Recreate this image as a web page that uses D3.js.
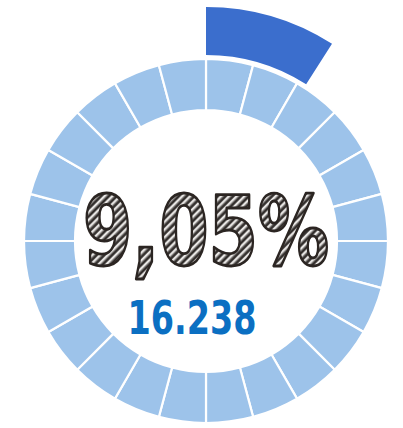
<!DOCTYPE html>
<html>
<head>
<meta charset="utf-8">
<script src="https://cdn.jsdelivr.net/npm/d3@7"></script>
<style>
    body { margin: 0; background: #fff; }
    svg { display: block; }
</style>
</head>
<body>
<div id="gauge"></div>
<script>
// chart values
let segments = d3.range(24).map(() => 1)
let percentValue = [9.05]
let percentLabel = ["9,05%"]
let countLabel = ["16.238"]

;(function () {
    let w = 403
    let h = 428
    let cx = 206
    let cy = 241

    let svg = d3.select("#gauge")
        .append("svg")
        .attr("width", w)
        .attr("height", h)

    // hatch pattern for the big number
    let defs = svg.append("defs")
    let pat = defs.append("pattern")
        .attr("id", "hatch")
        .attr("patternUnits", "userSpaceOnUse")
        .attr("width", 5.5)
        .attr("height", 5.5)
        .attr("patternTransform", "rotate(45)")
    pat.append("rect").attr("width", 5.5).attr("height", 5.5).attr("fill", "#5e5a58")
    pat.append("rect").attr("width", 2.2).attr("height", 5.5).attr("fill", "#e8e6e4")
    pat.append("rect").attr("x", 3.4).attr("width", 1.4).attr("height", 5.5).attr("fill", "#282422")

    let g = svg.append("g")
        .attr("transform", "translate(" + cx + "," + cy + ")")

    // ring of equal segments
    let pie = d3.pie().sort(null).value(d => d)
    let ringArc = d3.arc()
        .innerRadius(131)
        .outerRadius(182)

    g.selectAll("path.seg")
        .data(pie(segments))
        .enter()
        .append("path")
        .attr("class", "seg")
        .attr("d", ringArc)
        .attr("fill", "#9dc3ea")
        .attr("stroke", "#ffffff")
        .attr("stroke-width", 2.2)

    // highlighted value arc, pushed outwards
    let angle = d3.scaleLinear()
        .domain([0, 100])
        .range([0, 2 * Math.PI])

    let valueArc = d3.arc()
        .innerRadius(186)
        .outerRadius(234)
        .startAngle(0)
        .endAngle(d => angle(d))

    g.selectAll("path.val")
        .data(percentValue)
        .enter()
        .append("path")
        .attr("class", "val")
        .attr("d", valueArc)
        .attr("fill", "#3b6ecd")

    // big percentage
    g.append("text")
        .attr("x", 0)
        .attr("y", 24)
        .attr("text-anchor", "middle")
        .attr("textLength", 246)
        .attr("lengthAdjust", "spacingAndGlyphs")
        .style("font-family", "'DejaVu Sans Condensed', 'DejaVu Sans'")
        .style("font-weight", "bold")
        .style("font-stretch", "condensed")
        .style("font-size", "96px")
        .attr("fill", "url(#hatch)")
        .attr("stroke", "#2b2522")
        .attr("stroke-width", 2.8)
        .attr("stroke-linejoin", "round")
        .text(percentLabel[0])

    // count below
    g.append("text")
        .attr("x", -14)
        .attr("y", 93)
        .attr("text-anchor", "middle")
        .attr("textLength", 129)
        .attr("lengthAdjust", "spacingAndGlyphs")
        .style("font-family", "'DejaVu Sans Condensed', 'DejaVu Sans'")
        .style("font-weight", "bold")
        .style("font-size", "46px")
        .attr("fill", "#0b6fc2")
        .text(countLabel[0])
})()
</script>
</body>
</html>
